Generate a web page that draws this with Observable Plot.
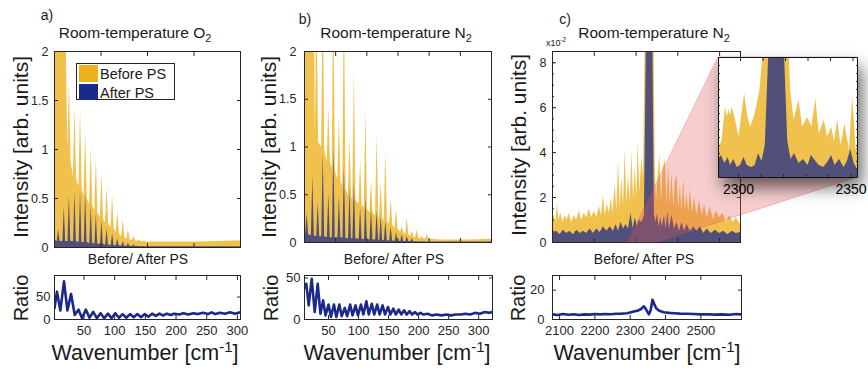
<!DOCTYPE html>
<html><head><meta charset="utf-8">
<script src="https://cdn.jsdelivr.net/npm/d3@7"></script>
<script src="https://cdn.jsdelivr.net/npm/@observablehq/plot@0.6"></script>
<style>
body{margin:0;background:#fff;}
#fig{position:relative;width:868px;height:371px;overflow:hidden;font-family:'Liberation Sans',Arial,sans-serif;color:#1a1a1a;}
.t{position:absolute;white-space:nowrap;line-height:1;}
.c{transform:translate(-50%,-50%);}
.r{transform:translate(-50%,-50%) rotate(-90deg);}
sub,sup{font-size:70%;line-height:0;}
</style></head><body><div id="fig"></div>
<script>
// ---------- Panel a : O2 ----------
const aBeforeX = [0,24,28.5,32,35.5,40.5,44,47.5,52.5,56,59.5,63.5,67,70.5,75.5,79,82.5,86.5,90,93.5,98.5,102,105.5,109.5,113,116.5,121.5,125,128.5,132.5,136,139.5,144.5,148,151.5,155.5,159,162.5,167.5,171,174.5,178.5,182,185.5,190.5,194,197.5,250,300,350,400];
const aBeforeY = [2.6,2.6,1.0,1.70,0.88,0.72,1.42,0.7,0.62,1.40,0.6,0.52,1.17,0.5,0.44,1.01,0.42,0.37,0.89,0.35,0.3,0.75,0.29,0.25,0.61,0.24,0.2,0.52,0.19,0.15,0.36,0.14,0.11,0.28,0.1,0.085,0.18,0.08,0.07,0.11,0.068,0.062,0.08,0.06,0.058,0.065,0.056,0.055,0.055,0.06,0.07];
const aAfterX = [0,3,6,9,12,18,21,24,29,32,35,41,44,47,53,56,59,64,67,70,76,79,82,87,90,93,99,102,105,110,113,116,122,125,128,133,136,139,145,148,151,156,159,162,168,171,174,200,300,400];
const aAfterY = [0.12,0.07,0.06,0.18,0.06,0.06,0.41,0.06,0.06,0.53,0.06,0.06,0.56,0.06,0.05,0.57,0.05,0.05,0.55,0.05,0.04,0.42,0.04,0.035,0.34,0.035,0.03,0.27,0.03,0.025,0.19,0.025,0.02,0.14,0.02,0.018,0.09,0.018,0.015,0.06,0.014,0.012,0.04,0.012,0.01,0.025,0.01,0.008,0.008,0.008];
const aRatioX = [2,6,11.5,17.5,23,29,35,41,47,53,59,65,71,77,83,89,95,101,107,113,119,125,131,137,143,149,155,161,167,173,179,185,191,197,205,212,220,228,236,244,252,258,264,272,280,288,296,305];
const aRatioY = [25,62,20,85,20,57,10,22,3,22,4,17,3,14,3,13,3,14,4,12,4,12,5,12,5,12,6,13,8,13,9,13,10,13,11,14,11,14,12,15,12,16,12,15,13,16,13,16];

// ---------- Panel b : N2 rotational ----------
const bBeforeX = [0,16,17.4,20,22.6,27.4,30,32.6,36.4,39,41.6,44.4,47,49.6,53.4,56,58.6,61.4,64,66.6,70.4,73,75.6,77.4,80,82.6,87.4,90,92.6,95.9,98.5,101.1,104.9,107.5,110.1,113.9,116.5,119.1,120.4,123,125.6,127.9,130.5,133.1,136.4,139,141.6,145.1,147.7,150.3,154.2,156.8,159.4,162.2,164.8,167.4,170.2,172.8,175.4,178.2,180.8,183.4,186.2,188.8,191.4,194.4,197,199.6,202.4,205,207.6,230,260,280,300];
const bBeforeY = [2.6,2.6,1.1,2.6,1.05,1.0,2.6,0.95,0.85,1.42,0.83,0.78,2.6,0.75,0.66,1.30,0.64,0.58,2.6,0.56,0.5,1.10,0.48,0.45,1.8,0.44,0.4,0.85,0.39,0.36,1.37,0.35,0.31,0.65,0.3,0.28,1.12,0.27,0.26,0.62,0.25,0.23,0.95,0.22,0.19,0.45,0.18,0.15,0.34,0.14,0.11,0.16,0.1,0.085,0.25,0.08,0.065,0.12,0.06,0.05,0.13,0.048,0.04,0.06,0.038,0.035,0.08,0.033,0.03,0.04,0.028,0.025,0.025,0.03,0.035];
const bAfterX = [0,1.9,4.3,6.7,11,13.4,15.8,19.6,22,24.4,27.6,30,32.4,36.6,39,41.4,44.6,47,49.4,53.6,56,58.4,61.6,64,66.4,70.6,73,75.4,77.6,80,82.4,87.6,90,92.4,96.1,98.5,100.9,105.1,107.5,109.9,114.1,116.5,118.9,120.6,123,125.4,128.1,130.5,132.9,136.6,139,141.4,145.3,147.7,150.1,154.4,156.8,159.2,162.4,164.8,167.2,170.4,172.8,175.2,200,250,300];
const bAfterY = [0.12,0.1,0.30,0.08,0.07,0.69,0.07,0.06,0.42,0.06,0.06,0.93,0.06,0.05,0.51,0.05,0.05,0.98,0.05,0.05,0.48,0.05,0.045,0.79,0.045,0.04,0.56,0.04,0.04,0.63,0.04,0.035,0.36,0.035,0.03,0.46,0.03,0.03,0.35,0.03,0.025,0.33,0.025,0.022,0.27,0.022,0.02,0.22,0.02,0.016,0.16,0.016,0.013,0.10,0.013,0.011,0.08,0.011,0.01,0.06,0.01,0.009,0.04,0.009,0.006,0.006,0.006];
const bRatioX = [10,13,17,22,27,32,36.5,41,45,50,54,59,63,68,72,77,81,86,90,95,99,104,108,113,117,122,126,131,135,140,144,149,153,158,162,167,171,176,180,185,189,194,198,203,208,215,222,230,238,246,254,262,270,278,286,294,302,310,318,323];
const bRatioY = [38,43,17,49,9,43,7,23,5,18,3,18,3,18,4,14,4,18,5,17,5,18,6,22,6,19,6,18,6,17,6,15,6,13,6,12,6,11,6,10,6,9,6,8,6,7,5,6,5,6,5,6,6,7,6,8,7,9,8,9];

// ---------- Panel c : N2 vibrational ----------
const cBeforeX = [2100,2104,2108,2112,2115,2120,2125,2130,2135,2140,2146,2152,2158,2164,2170,2176,2182,2188,2194,2200,2206,2212,2217,2222,2226,2231,2236,2241,2245,2250,2254,2258,2262,2266,2270,2274,2278,2282,2286,2290,2294,2298,2302,2305,2309,2314,2318,2322,2343,2346,2349,2353,2357,2361,2365,2370,2374,2378,2382,2386,2390,2394,2398,2402,2406,2410,2414,2418,2422,2426,2430,2435,2440,2446,2452,2458,2464,2470,2478,2485,2492,2500,2508,2516,2524,2532,2540,2550];
const cBeforeY = [0.010,0.012,0.009,0.0175,0.010,0.013,0.009,0.012,0.010,0.013,0.009,0.012,0.010,0.014,0.010,0.013,0.011,0.015,0.011,0.014,0.011,0.016,0.012,0.021,0.012,0.017,0.013,0.020,0.013,0.026,0.014,0.036,0.015,0.029,0.016,0.041,0.017,0.030,0.018,0.040,0.019,0.033,0.020,0.045,0.022,0.038,0.028,0.095,0.095,0.034,0.018,0.030,0.039,0.018,0.033,0.037,0.017,0.034,0.016,0.031,0.016,0.027,0.030,0.015,0.025,0.014,0.028,0.014,0.022,0.013,0.024,0.013,0.020,0.012,0.019,0.012,0.017,0.011,0.016,0.010,0.014,0.011,0.013,0.009,0.012,0.009,0.011,0.008];
const cAfterX = [2100,2110,2118,2126,2134,2142,2150,2158,2166,2174,2182,2190,2198,2206,2214,2222,2230,2238,2246,2252,2258,2264,2270,2276,2282,2288,2293,2298,2303,2308,2314,2320,2325,2340,2344,2348,2351,2355,2359,2363,2368,2372,2376,2380,2386,2392,2398,2404,2410,2416,2422,2430,2438,2446,2454,2462,2470,2480,2490,2500,2510,2520,2530,2540,2550];
const cAfterY = [0.004,0.005,0.0035,0.0055,0.004,0.005,0.0035,0.0055,0.004,0.005,0.004,0.006,0.004,0.006,0.0045,0.007,0.005,0.007,0.005,0.008,0.005,0.009,0.006,0.008,0.006,0.013,0.006,0.011,0.007,0.010,0.009,0.012,0.095,0.095,0.012,0.009,0.013,0.007,0.011,0.007,0.012,0.006,0.0135,0.006,0.012,0.006,0.009,0.005,0.009,0.005,0.008,0.005,0.007,0.005,0.007,0.004,0.006,0.004,0.0055,0.004,0.005,0.0035,0.005,0.004,0.0045];
const cRatioX = [2080,2095,2110,2125,2140,2155,2170,2185,2200,2215,2230,2245,2260,2275,2290,2300,2310,2320,2330,2338,2342,2348,2353,2358,2363,2368,2374,2382,2395,2410,2425,2440,2460,2480,2500,2520,2540,2560,2580,2600,2615];
const cRatioY = [3.5,3.1,3.7,3.2,3.6,3.1,3.5,3.3,3.7,3.5,3.8,3.6,3.9,4.0,4.3,4.8,5.5,6,7,9,8,5.5,3.5,6.5,13.5,10.5,7.5,6,5,4.5,4.3,4,3.9,3.7,3.5,3.6,3.3,3.5,3.2,3.7,3.5];
// inset (zoom of panel c)
const insetX = [2290.2,2291.8,2293.3,2294.1,2294.8,2295.5,2296.3,2297.8,2299.3,2300.3,2301.8,2303.3,2304.5,2306,2307.2,2308.6,2310.4,2321.5,2322.3,2323.8,2326,2327.6,2329.8,2331.7,2333.5,2335,2337.2,2338.7,2340.5,2341.7,2343.2,2344.7,2346.4,2348.4,2349.9,2351.4,2352];
const insetBefore = [0.0068,0.0093,0.0176,0.0150,0.0170,0.0155,0.0176,0.0143,0.0101,0.0143,0.0210,0.0150,0.0126,0.0150,0.0176,0.0218,0.0330,0.0330,0.0218,0.0143,0.0193,0.0126,0.0150,0.0126,0.0197,0.0109,0.0143,0.0101,0.0126,0.0090,0.0143,0.0080,0.0134,0.0068,0.0201,0.0068,0.0080];
const insetAfterX = [2290.2,2291.5,2293,2294.5,2295.5,2297,2298.5,2300,2301.5,2303,2305,2306.5,2308,2309.5,2311,2312.7,2319.4,2321,2322.5,2324,2326,2328,2330,2331.5,2333.5,2335,2337,2339,2340.5,2342,2344,2346,2347.5,2349,2350.5,2352];
const insetAfter = [0.0045,0.0055,0.0035,0.0050,0.0030,0.0045,0.0025,0.0030,0.0050,0.0030,0.0025,0.0030,0.0060,0.0040,0.0080,0.0330,0.0330,0.0090,0.0045,0.0060,0.0035,0.0045,0.0030,0.0055,0.0040,0.0030,0.0025,0.0040,0.0055,0.0030,0.0045,0.0025,0.0040,0.0070,0.0035,0.0020];

// ---------- ticks ----------
const ticksMainY = [0,0.5,1,1.5,2];
const ticksAX = [0,100,200,300,400];
const ticksBX = [0,50,100,150,200,250,300];
const ticksCX = [2100,2200,2300,2400,2500];
const ticksCY = [0,0.02,0.04,0.06,0.08];
const ticksCYminor = [0,0.005,0.01,0.015,0.02,0.025,0.03,0.035,0.04,0.045,0.05,0.055,0.06,0.065,0.07,0.075,0.08];
const ticksRatioX = [50,100,150,200,250,300];
const ticksRatioY = [0,50];
const ticksRatioCY = [0,20];
const ticksInsetX = [2300,2310,2320,2330,2340,2350];
const ticksInsetLabels = [2300,2350];
const ticksInsetY = [0,0.002,0.004,0.006,0.008,0.01,0.012,0.014,0.016,0.018,0.02,0.022,0.024,0.026,0.028,0.03];

const YEL = "#EDB120", BLUE = "#1B2A8A", AX = "#262626";
const FONT = "'Liberation Sans', Arial, sans-serif";
const rows = (xs, ys) => xs.map((x, i) => ({x, y: ys[i]}));
const blank = () => "";

function box({xt, yt, xfmt = blank, yfmt = blank, xPad = 10, yPad = 10, ts = -4, ytMinor}) {
  const m = [
    Plot.frame({stroke: AX}),
    Plot.axisX({anchor: "bottom", ticks: xt, tickSize: ts, tickPadding: xPad, tickFormat: xfmt, label: null}),
    Plot.axisX({anchor: "top", ticks: xt, tickSize: ts, tickFormat: blank, label: null}),
    Plot.axisY({anchor: "left", ticks: yt, tickSize: ts, tickPadding: yPad, tickFormat: yfmt, label: null}),
    Plot.axisY({anchor: "right", ticks: yt, tickSize: ts, tickFormat: blank, label: null})
  ];
  if (ytMinor) m.push(Plot.axisY({anchor: "left", ticks: ytMinor, tickSize: -2, tickFormat: blank, label: null}));
  return m;
}
function spectrum(bx, by, ax, ay) {
  return [
    Plot.areaY(rows(bx, by), {x: "x", y: "y", fill: YEL, fillOpacity: 0.8, clip: true}),
    Plot.areaY(rows(ax, ay), {x: "x", y: "y", fill: BLUE, fillOpacity: 0.75, clip: true})
  ];
}
const fig = document.getElementById("fig");
function put(el, left, top) {
  el.style.position = "absolute"; el.style.left = left + "px"; el.style.top = top + "px";
  fig.appendChild(el); return el;
}
function base(w, h, ml, mr, mt, mb, fs) {
  return {width: w, height: h, marginLeft: ml, marginRight: mr, marginTop: mt, marginBottom: mb,
    style: {fontFamily: FONT, fontSize: fs + "px", color: AX, background: "transparent", overflow: "visible"}};
}
const fmt = d => String(d);

// Main spectra
const mainA = Plot.plot({...base(250, 215, 54, 10, 11, 8, 12.5),
  x: {domain: [0, 400]}, y: {domain: [0, 2]},
  marks: [...spectrum(aBeforeX, aBeforeY, aAfterX, aAfterY), ...box({xt: ticksAX, yt: ticksMainY, yfmt: fmt, yPad: 10})]});
put(mainA, 0, 40);

const mainB = Plot.plot({...base(240, 210, 44, 9, 11, 8, 12.5),
  x: {domain: [0, 300]}, y: {domain: [0, 2]},
  marks: [...spectrum(bBeforeX, bBeforeY, bAfterX, bAfterY), ...box({xt: ticksBX, yt: ticksMainY, yfmt: fmt, yPad: 12})]});
put(mainB, 260, 40);

const mainC = Plot.plot({...base(240, 210, 42, 10, 11, 8, 12.5),
  x: {domain: [2100, 2550]}, y: {domain: [0, 0.085]},
  marks: [...spectrum(cBeforeX, cBeforeY, cAfterX, cAfterY),
    ...box({xt: ticksCX, yt: ticksCY, yfmt: d => String(Math.round(d * 100)), yPad: 10, ytMinor: ticksCYminor})]});
put(mainC, 510, 40);

// Ratio plots
function ratio(xs, ys, xdom, ydom, yt, w, ml, mr, yPad) {
  return Plot.plot({...base(w, 75, ml, mr, 10, 21, 13),
    x: {domain: xdom}, y: {domain: ydom},
    marks: [Plot.line(rows(xs, ys), {x: "x", y: "y", stroke: BLUE, strokeWidth: 2.6, clip: true}),
      ...box({xt: xdom[0] > 1000 ? ticksCX : ticksRatioX, yt, xfmt: fmt, yfmt: fmt, xPad: 10, yPad})]});
}
put(ratio(aRatioX, aRatioY, [2, 305], [0, 98], ticksRatioY, 250, 54, 10, 8), 0, 265);
put(ratio(bRatioX, bRatioY, [10, 323], [0, 53], ticksRatioY, 240, 44, 8, 8), 260, 265);
put(ratio(cRatioX, cRatioY, [2080, 2615], [0, 30], ticksRatioCY, 245, 42, 14, 12), 510, 265);

// Inset
const insetDom = [2290.2, 2352], insetY = [0, 0.03];
const inset = Plot.plot({...base(160, 150, 10, 11, 7, 23, 14),
  x: {domain: insetDom}, y: {domain: insetY},
  marks: [...spectrum(insetX, insetBefore, insetAfterX, insetAfter),
    Plot.frame({stroke: "#111"}),
    Plot.axisX({anchor: "bottom", ticks: ticksInsetX, tickSize: -3, tickPadding: 10, label: null, fill: "#000", dx: -2,
      tickFormat: d => ticksInsetLabels.includes(d) ? String(d) : ""}),
    Plot.axisX({anchor: "top", ticks: ticksInsetX, tickSize: -3, tickFormat: blank, label: null}),
    Plot.axisY({anchor: "left", ticks: ticksInsetY, tickSize: -2, tickFormat: blank, label: null}),
    Plot.axisY({anchor: "right", ticks: ticksInsetY, tickSize: -2, tickFormat: blank, label: null})]});

// zoom cone, from main-c scale to inset frame
const sxC = mainC.scale("x"), syC = mainC.scale("y");
const sxI = inset.scale("x"), syI = inset.scale("y");
const bL = 510 + sxC.apply(insetDom[0]), bR = 510 + sxC.apply(insetDom[1]), bY = 40 + syC.apply(0);
const iL = 708 + sxI.apply(insetDom[0]), iR = 708 + sxI.apply(insetDom[1]);
const iT = 50 + syI.apply(insetY[1]), iB = 50 + syI.apply(insetY[0]);
const ov = d3.create("svg").attr("width", 868).attr("height", 371).style("pointer-events", "none");
ov.append("polygon").attr("points", [[bL - 4, bY], [iL, iT], [iR, iT], [iR, iB], [bR, bY]].map(p => p.join(",")).join(" "))
  .attr("fill", "#e65a5a").attr("fill-opacity", 0.3).attr("stroke", "#c84848").attr("stroke-opacity", 0.35).attr("stroke-width", 0.8);
put(ov.node(), 0, 0);
const sh = document.createElement("div");
sh.style.cssText = `width:${iR - iL}px;height:${iB - iT}px;background:#fff;box-shadow:5px 10px 16px rgba(0,0,0,0.6);`;
put(sh, iL, iT);
put(inset, 708, 50);

// Legend
const lg = document.createElement("div");
lg.style.cssText = `width:97px;height:35px;border:1px solid ${AX};background:#fff;font-size:14.5px;`;
lg.innerHTML = `<div style="position:absolute;left:2px;top:1px;width:19px;height:17px;background:${YEL}"></div>
<div style="position:absolute;left:23px;top:2px;">Before PS</div>
<div style="position:absolute;left:2px;top:20px;width:19px;height:16px;background:${BLUE}"></div>
<div style="position:absolute;left:23px;top:21px;">After PS</div>`;
put(lg, 76, 63);

// Texts
function text(html, x, y, size, cls) {
  const d = document.createElement("div");
  d.className = "t " + cls; d.innerHTML = html;
  d.style.left = x + "px"; d.style.top = y + "px"; d.style.fontSize = size + "px";
  fig.appendChild(d);
}
text("a)", 47, 15, 14, "c"); text("b)", 305, 19, 14, "c"); text("c)", 565, 19, 14, "c");
text("Room-temperature O<sub>2</sub>", 135, 33, 15.5, "c");
text("Room-temperature N<sub>2</sub>", 396, 33, 15.5, "c");
text("Room-temperature N<sub>2</sub>", 654, 33, 15.5, "c");
text("x10<sup>-2</sup>", 556, 43, 9, "c");
text("Intensity [arb. units]", 20, 147, 21, "r");
text("Intensity [arb. units]", 268, 147, 21, "r");
text("Intensity [arb. units]", 518, 145, 21, "r");
text("Before/ After PS", 138, 259, 14, "c");
text("Before/ After PS", 394, 259, 14, "c");
text("Before/ After PS", 644, 259, 14, "c");
text("Ratio", 21, 298, 20, "r"); text("Ratio", 271, 298, 20, "r"); text("Ratio", 518, 298, 20, "r");
text("Wavenumber [cm<sup>-1</sup>]", 145, 354, 21.5, "c");
text("Wavenumber [cm<sup>-1</sup>]", 397, 354, 21.5, "c");
text("Wavenumber [cm<sup>-1</sup>]", 647, 354, 21.5, "c");
</script></body></html>
